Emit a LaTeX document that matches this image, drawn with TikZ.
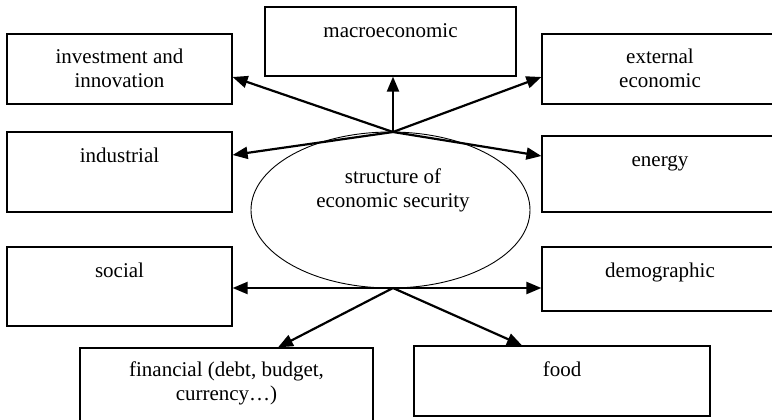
\documentclass[tikz,border=0pt]{standalone}
\usepackage{fontspec}
\setmainfont{Liberation Serif}
\usetikzlibrary{arrows.meta,shapes.geometric}
\begin{document}
\begin{tikzpicture}[x=1pt,y=-1pt,
  box/.style={draw=black,line width=1.2pt,rectangle,inner sep=0pt},
  lbl/.style={anchor=north,inner sep=0pt,align=center,
    font=\fontsize{21pt}{24pt}\selectfont,execute at begin node=\strut},
  link/.style={line width=2.2pt,-{Triangle[length=15pt,width=12pt]}}]
\useasboundingbox (0,0) rectangle (772,420);
\clip (0,0) rectangle (772,420);

% central ellipse
\node[draw=black,line width=0.9pt,ellipse,inner sep=0pt,
  minimum width=279pt,minimum height=156pt] (core) at (390.5,210) {};
\node[lbl] (coretext) at (393,169) {structure of\\economic security};

% surrounding boxes
\node[box,minimum width=251pt,minimum height=69pt] (macro) at (390.5,41.5) {};
\node[box,minimum width=225pt,minimum height=70pt] (inv) at (119.5,69) {};
\node[box,minimum width=238pt,minimum height=70pt] (ext) at (661,69) {};
\node[box,minimum width=225pt,minimum height=80pt] (ind) at (119.5,172) {};
\node[box,minimum width=238pt,minimum height=76pt] (energy) at (661,174) {};
\node[box,minimum width=225pt,minimum height=79pt] (social) at (119.5,286.5) {};
\node[box,minimum width=238pt,minimum height=64pt] (demo) at (661,279) {};
\node[box,minimum width=293pt,minimum height=82pt] (fin) at (226.5,389) {};
\node[box,minimum width=296pt,minimum height=70pt] (food) at (562,381) {};

% box captions, set near the top of each box
\node[lbl] (macrotext) at ([yshift=-14pt]macro.north) {macroeconomic};
\node[lbl] (invtext) at ([yshift=-15pt]inv.north) {investment and\\innovation};
\node[lbl] (exttext) at ([yshift=-15pt,xshift=-1pt]ext.north) {external\\economic};
\node[lbl] (indtext) at ([yshift=-14pt]ind.north) {industrial};
\node[lbl] (energytext) at ([yshift=-14pt,xshift=-1pt]energy.north) {energy};
\node[lbl] (socialtext) at ([yshift=-14pt]social.north) {social};
\node[lbl] (demotext) at ([yshift=-14pt,xshift=-1pt]demo.north) {demographic};
\node[lbl] (fintext) at ([yshift=-14pt]fin.north) {financial (debt, budget,\\currency\ldots)};
\node[lbl] (foodtext) at ([yshift=-14pt]food.north) {food};

% hubs on the ellipse
\coordinate (hubtop) at (393,132);
\coordinate (hubbot) at (393,288);

% connectors
\draw[link] (hubtop) -- (hubtop |- macro.south);
\draw[link] (hubtop) -- ([yshift=-8pt]inv.east);
\draw[link] (hubtop) -- ([yshift=-8pt]ext.west);
\draw[link] (hubtop) -- ([yshift=17pt]ind.east);
\draw[link] (hubtop) -- ([yshift=18pt]energy.west);
\draw[link] (hubbot) -- (hubbot -| social.east);
\draw[link] (hubbot) -- (hubbot -| demo.west);
\draw[link] (hubbot) -- ([xshift=51.5pt]fin.north);
\draw[link] (hubbot) -- ([xshift=-40pt]food.north);
\end{tikzpicture}
\end{document}
